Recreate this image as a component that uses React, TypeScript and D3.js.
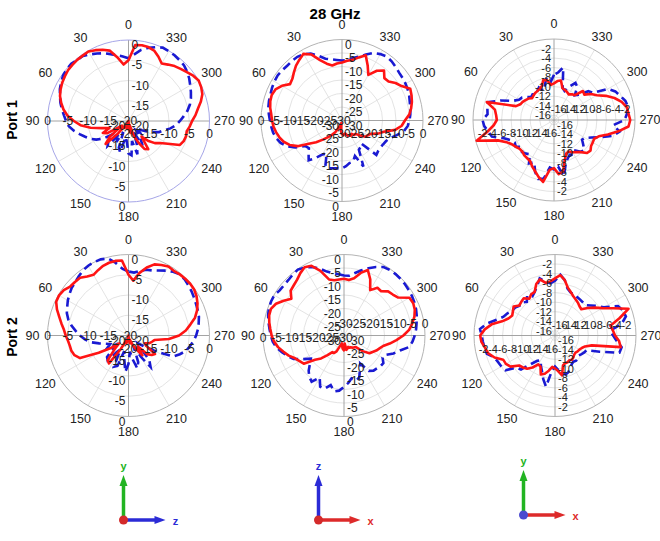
import { useEffect, useRef } from "react"
import * as d3 from "d3"

// angle of every sample, degrees, counter-clockwise from the top
const angles = [
  0, 5, 10, 15, 20, 25, 30, 35, 40, 45, 50, 55, 60, 65, 70, 75, 80, 85, 90, 95, 100, 105, 110, 115,
  120, 125, 130, 135, 140, 145, 150, 155, 160, 165, 170, 175, 180, 185, 190, 195, 200, 205, 210, 215,
  220, 225, 230, 235, 240, 245, 250, 255, 260, 265, 270, 275, 280, 285, 290, 295, 300, 305, 310, 315,
  320, 325, 330, 335, 340, 345, 350, 355,
]

const angleTicks = [0, 30, 60, 90, 120, 150, 180, 210, 240, 270, 300, 330]

const ticks20 = [0, -5, -10, -15, -20]
const ticks30 = [0, -5, -10, -15, -20, -25, -30]
const ticks16 = [-2, -4, -6, -8, -10, -12, -14, -16]

// Port 1
const p1Red = [
  -5, -6, -4, -2, -1.3, -0.7, -0.2, -0.3, -0.3, -0.4, -0.5, -0.8, -1.1, -1.5, -2, -2.8, -3.7, -4.9,
  -6.5, -8.1, -10.5, -13.2, -15, -13, -14, -18, -14, -12, -16, -19, -18, -19, -20, -19, -18, -19,
  -20, -18, -17, -19, -16, -14, -12, -11.5, -15, -13, -11.5, -10.5, -8.8, -6, -5.5, -5.3, -5.4, -4.8,
  -4.3, -3.4, -2.6, -1.5, -0.6, -0.2, 0, -0.5, -1.2, -1.8, -2.3, -3, -3.6, -2.5, -1.5, -1.1, -1, -1.2,
]
const p1Blue = [
  -4.5, -4, -3.5, -2.9, -2.2, -1.6, -1, -0.4, -0.3, 0, -0.1, -0.3, -0.8, -1.3, -2, -2.6, -3.3, -4,
  -4.6, -5.2, -6.3, -7.5, -8.6, -9.6, -10.8, -12.5, -15, -13, -12, -16, -14, -17, -13, -12, -16, -15,
  -12, -11.5, -15, -11.5, -14, -17, -13, -15, -17, -16, -17, -16, -15, -13.5, -12, -11, -9.5, -8.2,
  -7.3, -6.3, -5.2, -4.3, -3.6, -3, -2.4, -1.7, -1.1, -0.6, -0.4, -0.2, -0.1, 0, -0.6, -1.3, -2.2, -3.5,
]
const p2Red = [
  -8.5, -8.8, -9.3, -8.2, -6.2, -3, -1.5, -2.5, -3.5, -4.8, -6, -6.5, -4.3, -2.8, -2.3, -2.5, -3, -3.7,
  -4.1, -4.5, -5.2, -6, -7, -8.6, -11, -15, -17.5, -20, -22, -23.5, -25, -27, -28.5, -29, -28.5, -26,
  -25, -24.5, -25, -25, -24, -24, -23.5, -24, -23, -23, -21.5, -19.5, -19, -18.3, -15.8, -14, -10, -7.8,
  -6.7, -5, -4, -3.2, -2.6, -2.1, -4.5, -5.8, -7.5, -7.8, -5.8, -7.5, -10.5, -7.5, -4.3, -5.8, -7.2, -7.8,
]
const p2Blue = [
  -7.8, -7.5, -7, -6.3, -4.5, -2.6, -1.7, -1.2, -1.2, -1.3, -1.1, -0.9, -1.1, -1.4, -1.8, -2, -2.3, -2.8,
  -3.3, -3.7, -4.1, -4.8, -5.8, -7.5, -10, -13.5, -14, -12.5, -10.8, -13, -15.5, -16.5, -12, -11.7, -12, -12.2,
  -12.3, -13, -14, -14.2, -16, -11.2, -17.5, -18, -18.9, -12, -12.5, -12.6, -12.4, -12, -11, -9, -6.8, -5.6,
  -5, -4.6, -4.3, -4, -3.5, -3.1, -2.8, -2.6, -2.4, -1.9, -1.4, -1.1, -1.6, -2.4, -4, -5.5, -6.5, -7.5,
]
const p3Red = [
  -9.3, -9.6, -8.5, -8.3, -9.5, -9.8, -10, -10.1, -10.3, -10.5, -10, -9.7, -9.4, -9.2, -8.5, -2.4, -4.4, -4.8,
  -5, -4.3, -2.8, -0.2, -4.5, -6, -6.8, -7.2, -7.6, -7.6, -7.3, -7.2, -7, -6.2, -5.5, -4.6, -3.8, -6.5,
  -6.9, -5.6, -6, -8.3, -9.5, -9.7, -9.2, -8.8, -8.2, -7.2, -7, -7.5, -7.6, -7.7, -7, -5.3, -3.3, -1.3,
  -1, -1.3, -1.5, -2.3, -3.5, -5, -6.6, -7.5, -8.7, -8.4, -10.2, -10.4, -10.8, -10.5, -10.3, -10.1, -8.6, -8.8,
]
const p3Blue = [
  -7.5, -9, -8, -9.5, -10.5, -9.5, -10, -10.5, -10, -10.2, -9.5, -8.8, -8.5, -7.5, -5, -2.6, -2.8, -3,
  -2, -2.3, -3, -3.5, -5.8, -7, -7.5, -7.2, -8.2, -7.5, -7.8, -8.2, -6.5, -7.2, -5.4, -4.2, -4.5, -7,
  -6.6, -7.2, -5, -7.5, -8.5, -9, -8.6, -9.2, -8.3, -8, -9, -9.8, -9.5, -8.3, -6.5, -4.2, -3, -4.5,
  -2.2, -1.6, -1.2, -1.5, -2.2, -2.8, -3.9, -7, -7.6, -9.5, -10.2, -8.5, -8, -9.2, -10.5, -10, -5.8, -7,
]

// Port 2
const p4Red = [
  -5, -1.4, -1.3, -1.4, -1.7, -2.2, -2.7, -2.2, -1.4, -1.3, -1.2, -0.5, -0.2, -0.3, -1.2, -2.3, -3.2, -4,
  -4.5, -5, -5.3, -5.4, -5.8, -6.8, -11.5, -14.5, -17, -15, -12, -11.6, -16, -18.5, -19, -18, -19, -19.5,
  -20, -19, -18, -19, -18.5, -17, -16, -14, -16.5, -13.5, -12.5, -12, -15, -15.5, -14.5, -14, -13.5, -10,
  -7.5, -5.8, -4.5, -3, -2, -1.2, -0.6, -0.2, -0.1, -0.2, -0.3, -0.5, -0.3, -0.8, -1.3, -2.6, -4.3, -6.4,
]
const p4Blue = [
  -4.2, -3.5, -1.8, -0.3, 0, 0, -0.1, -0.4, -0.9, -1.4, -1.7, -2.2, -2.7, -3.3, -3.8, -4.6, -5.7, -6.9,
  -8, -9.2, -10.5, -12.5, -14, -15, -14, -16, -15, -12.5, -12, -15, -16, -11.5, -12, -16, -14, -11,
  -13, -16, -14, -11.6, -13, -17, -14, -10.5, -12, -16, -17, -15.5, -12, -7.8, -6.5, -5.3, -4.6, -3.9,
  -3.3, -2.8, -2.4, -2, -1.8, -1.6, -1.3, -1, -0.7, -0.4, -0.3, -0.8, -1.5, -2.3, -2.9, -3.2, -3.8, -4.4,
]
const p5Red = [
  -9, -9.2, -9.2, -8.5, -4.5, -1.5, -0.8, -1.8, -3, -3.7, -4.2, -6.2, -4.2, -2.2, -1.2, -1.3, -1.9, -2.6,
  -3.2, -4, -5.2, -6.8, -8.2, -10, -11, -11.8, -16, -18, -20.5, -22.5, -22.5, -23.5, -26, -27, -26, -25,
  -24.5, -27, -24.6, -25, -25.5, -25, -25, -24.5, -24.2, -24, -21, -18.5, -17.8, -16.8, -16, -15, -12.8, -10.5,
  -8, -5.8, -4.3, -3, -2.1, -1.7, -2, -5.5, -6.4, -6.9, -8.6, -8.4, -10.6, -7, -4.2, -6, -8.5, -9.4,
]
const p5Blue = [
  -7.8, -7.2, -6.6, -5.5, -3.6, -2, -0.9, -0.2, -0.5, -0.9, -1, -0.9, -0.2, -0.2, -0.4, -0.9, -1.6, -2.3,
  -2.9, -3.5, -4.6, -6.2, -7.8, -9.4, -12.5, -15, -13.5, -11.5, -10, -9.1, -12, -9.1, -9, -11, -9, -9.5,
  -11, -12.3, -13.9, -12.7, -13.5, -16, -18, -14, -13, -12.8, -12.3, -12.2, -13.5, -13, -10.5, -8.5, -5.5, -4.5,
  -3.8, -3.2, -2.7, -2.1, -1.6, -1.2, -0.9, -0.7, -0.5, -0.35, -0.3, -0.4, -0.7, -2, -3.5, -5, -6.5, -7.8,
]
const p6Red = [
  -5, -5.6, -5.8, -4.8, -5.5, -6.9, -7, -7.6, -6.8, -7, -7.2, -6.4, -6.8, -7.1, -6.6, -5.5, -3.5, -2.2,
  -1.3, -1.5, -2.1, -2.5, -3.5, -5, -5.1, -5.6, -7.2, -7.5, -7.9, -8.8, -10, -9.8, -8.3, -8.7, -9.5, -10.4,
  -10.1, -9.5, -8.5, -10.5, -10.8, -10.8, -11, -10.8, -11, -11.3, -11.4, -11.2, -11.1, -10.8, -10.3, -9, -3, -3.5,
  -4.4, -4.8, -5.2, -3, -0.6, -3.5, -5.5, -6.8, -8, -9.2, -9, -8.6, -8.3, -7.9, -7.3, -6.6, -5.2, -4.3,
]
const p6Blue = [
  -5.5, -6, -5.5, -4.6, -6, -6.9, -7.5, -6.8, -7.8, -7.2, -7.3, -6.8, -6.6, -6, -5.5, -4.3, -2.5, -1.2,
  -1.6, -1.8, -2, -2.2, -3.5, -3.8, -4, -4.3, -6.5, -6.9, -9.2, -10.5, -11, -10, -9, -7.5, -6.1, -9.5,
  -10.5, -9.8, -9, -8.5, -8.8, -9.5, -10, -10.3, -10.1, -10.2, -10.5, -10.2, -9.9, -9.7, -7, -3, -2.8, -4,
  -4.8, -5.4, -2.8, -1.6, -1.8, -2.4, -5.2, -6.2, -7.2, -8, -7.9, -7.8, -7.7, -7.5, -7.4, -6.8, -5.2, -4.2,
]

const panels = [
  { cx: 128.5, cy: 121, min: -20, ticks: ticks20, red: p1Red, blue: p1Blue, flip: false, leftDy: 0, rightDy: 13, rim: "#a6a6e8" },
  { cx: 342, cy: 120.5, min: -30, ticks: ticks30, red: p2Red, blue: p2Blue, flip: false, leftDy: 0, rightDy: 13, rim: "#b4b4b4" },
  { cx: 554, cy: 120, min: -17, ticks: ticks16, red: p3Red, blue: p3Blue, flip: true, leftDy: 13, rightDy: -11, rim: "#b4b4b4" },
  { cx: 128.5, cy: 335.5, min: -20, ticks: ticks20, red: p4Red, blue: p4Blue, flip: false, leftDy: 0, rightDy: 13, rim: "#b4b4b4" },
  { cx: 344, cy: 335.5, min: -30, ticks: ticks30, red: p5Red, blue: p5Blue, flip: true, leftDy: 2, rightDy: -12, rim: "#b4b4b4" },
  { cx: 555, cy: 335.5, min: -17, ticks: ticks16, red: p6Red, blue: p6Blue, flip: true, leftDy: 13, rightDy: -11, rim: "#b4b4b4" },
]

const triads = [
  { x: 123.5, y: 520, up: "y", upColor: "#22b422", right: "z", rightColor: "#2b2bd6", ball: "#d42a2a" },
  { x: 318.5, y: 520, up: "z", upColor: "#2b2bd6", right: "x", rightColor: "#dd2a2a", ball: "#d42a2a" },
  { x: 523.5, y: 515, up: "y", upColor: "#22b422", right: "x", rightColor: "#dd2a2a", ball: "#4a4ad0" },
]

const FONT = "Arial, 'Liberation Sans', sans-serif"
const R = 81

export default function App() {
  const svgRef = useRef<SVGSVGElement>(null)

  useEffect(() => {
    if (!svgRef.current) return
    const svg = d3.select(svgRef.current)
    svg.selectAll("*").remove()
    svg.attr("width", 660).attr("height", 541).style("font-family", FONT)

    svg.append("rect").attr("width", 660).attr("height", 541).attr("fill", "white")

    svg
      .append("text")
      .attr("x", 335)
      .attr("y", 13)
      .attr("text-anchor", "middle")
      .attr("dominant-baseline", "central")
      .style("font-size", "15px")
      .style("font-weight", "bold")
      .text("28 GHz")

    ;[
      { label: "Port 1", y: 120 },
      { label: "Port 2", y: 337 },
    ].forEach((p) => {
      svg
        .append("text")
        .attr("transform", `translate(12,${p.y}) rotate(-90)`)
        .attr("text-anchor", "middle")
        .attr("dominant-baseline", "central")
        .style("font-size", "14px")
        .style("font-weight", "bold")
        .text(p.label)
    })

    const toRad = (a: number) => (a * Math.PI) / 180

    panels.forEach((p) => {
      const g = svg.append("g").attr("transform", `translate(${p.cx},${p.cy})`)
      const r = d3.scaleLinear().domain([p.min, 0]).range([0, R]).clamp(true)

      // grid circles
      g.selectAll(".ring")
        .data(p.ticks.filter((t) => t > p.min && t < 0))
        .enter()
        .append("circle")
        .attr("r", (d) => r(d))
        .attr("fill", "none")
        .attr("stroke", "#dcdcdc")
        .attr("stroke-width", 0.8)

      // spokes
      g.selectAll(".spoke")
        .data(angleTicks.filter((a) => a % 90 !== 0))
        .enter()
        .append("line")
        .attr("x2", (a) => -R * Math.sin(toRad(a)))
        .attr("y2", (a) => -R * Math.cos(toRad(a)))
        .attr("stroke", "#dcdcdc")
        .attr("stroke-width", 0.8)

      g.append("line").attr("x1", -R).attr("x2", R).attr("stroke", "#9a9a9a").attr("stroke-width", 0.9)
      g.append("line").attr("y1", -R).attr("y2", R).attr("stroke", "#9a9a9a").attr("stroke-width", 0.9)
      g.append("circle").attr("r", R).attr("fill", "none").attr("stroke", p.rim).attr("stroke-width", 1)

      const line = d3
        .lineRadial<number>()
        .angle((_, i) => -toRad(angles[i]))
        .radius((v) => r(v))
        .curve(d3.curveLinearClosed)

      g.append("path")
        .datum(p.blue)
        .attr("d", line)
        .attr("fill", "none")
        .attr("stroke", "#1a1ad2")
        .attr("stroke-width", 2.6)
        .attr("stroke-dasharray", "9,5")

      g.append("path")
        .datum(p.red)
        .attr("d", line)
        .attr("fill", "none")
        .attr("stroke", "#ff1414")
        .attr("stroke-width", 2.6)
        .attr("stroke-linejoin", "round")

      // angle labels
      g.selectAll(".ang")
        .data(angleTicks)
        .enter()
        .append("text")
        .attr("x", (a) => -(R + 15) * Math.sin(toRad(a)))
        .attr("y", (a) => -(R + 15) * Math.cos(toRad(a)))
        .attr("text-anchor", "middle")
        .attr("dominant-baseline", "central")
        .style("font-size", "12.5px")
        .style("fill", "#222")
        .text((a) => a)

      const fs = p.min === -17 ? "11px" : "12px"
      const addLabels = (
        xf: (v: number) => number,
        yf: (v: number) => number,
        anchor: string,
      ) => {
        g.append("g")
          .selectAll("text")
          .data(p.ticks)
          .enter()
          .append("text")
          .attr("x", xf)
          .attr("y", yf)
          .attr("text-anchor", anchor)
          .attr("dominant-baseline", "central")
          .style("font-size", fs)
          .style("fill", "#222")
          .text((v) => v)
      }

      const vOff = p.min === -17 ? 0 : 5
      // vertical axis labels
      addLabels(() => (p.flip ? -3 : 3), (v) => -r(v) + vOff, p.flip ? "end" : "start")
      addLabels(() => (p.flip ? 3 : -3), (v) => r(v) + vOff, p.flip ? "start" : "end")
      // horizontal axis labels
      addLabels((v) => -r(v), () => p.leftDy, "middle")
      addLabels((v) => r(v), () => p.rightDy, "middle")
    })

    // coordinate triads
    triads.forEach((t) => {
      const g = svg.append("g").attr("transform", `translate(${t.x},${t.y})`)
      g.append("line").attr("y2", -36).attr("stroke", t.upColor).attr("stroke-width", 3.5)
      g.append("path").attr("d", "M-4,-34 L0,-45 L4,-34 Z").attr("fill", t.upColor)
      g.append("line").attr("x2", 33).attr("stroke", t.rightColor).attr("stroke-width", 3.5)
      g.append("path").attr("d", "M31,-4 L42,0 L31,4 Z").attr("fill", t.rightColor)
      g.append("circle").attr("r", 4.5).attr("fill", t.ball)
      g.append("text")
        .attr("y", -54)
        .attr("text-anchor", "middle")
        .attr("dominant-baseline", "central")
        .style("font-size", "11px")
        .style("font-weight", "bold")
        .style("fill", t.upColor)
        .text(t.up)
      g.append("text")
        .attr("x", 52)
        .attr("y", 1)
        .attr("text-anchor", "middle")
        .attr("dominant-baseline", "central")
        .style("font-size", "11px")
        .style("font-weight", "bold")
        .style("fill", t.rightColor)
        .text(t.right)
    })
  }, [])

  return (
    <div style={{ position: "absolute", left: 0, top: 0 }}>
      <svg ref={svgRef}></svg>
    </div>
  )
}
